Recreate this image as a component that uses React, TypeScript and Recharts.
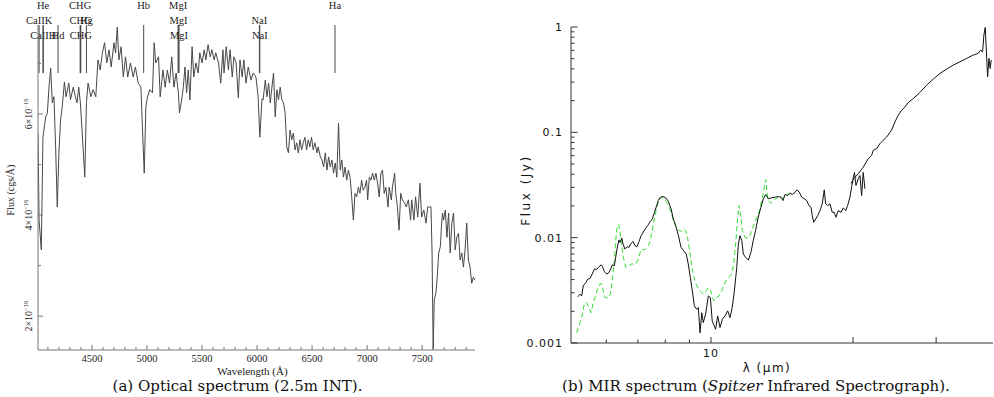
import React from "react";
import { LineChart, Line, XAxis, YAxis, ReferenceLine } from "recharts";

// (a) optical spectrum: wavelength (Å) and flux in units of 1e-16 cgs/Å
const opticalWave = [
  4010, 4020, 4040, 4055, 4080, 4095, 4110, 4125, 4140, 4155, 4170, 4185, 4200, 4215, 4230, 4250,
  4265, 4290, 4305, 4330, 4350, 4365, 4380, 4395, 4410, 4435, 4450, 4465, 4490, 4510, 4535, 4555,
  4575, 4595, 4615, 4635, 4655, 4675, 4700, 4715, 4730, 4745, 4765, 4785, 4805, 4825, 4850, 4875,
  4895, 4920, 4945, 4955, 4975, 4990, 5005, 5025, 5050, 5065, 5080, 5105, 5120, 5145, 5165, 5185,
  5205, 5225, 5245, 5265, 5285, 5295, 5315, 5330, 5345, 5360, 5375, 5390, 5410, 5425, 5445, 5465,
  5480, 5500, 5520, 5535, 5555, 5575, 5590, 5610, 5625, 5650, 5670, 5690, 5700, 5720, 5740, 5755,
  5775, 5790, 5810, 5830, 5845, 5865, 5880, 5900, 5920, 5945, 5965, 5990, 6010, 6025, 6045, 6055,
  6075, 6090, 6105, 6120, 6135, 6150, 6165, 6180, 6195, 6210, 6225, 6240, 6255, 6270, 6285, 6300,
  6315, 6330, 6345, 6360, 6375, 6390, 6405, 6420, 6435, 6450, 6465, 6480, 6495, 6510, 6525, 6545,
  6555, 6575, 6590, 6605, 6620, 6635, 6650, 6665, 6680, 6695, 6710, 6725, 6740, 6755, 6770, 6785,
  6800, 6815, 6830, 6845, 6860, 6875, 6890, 6905, 6920, 6935, 6950, 6965, 6980, 6995, 7005, 7020,
  7035, 7050, 7065, 7080, 7095, 7110, 7125, 7140, 7155, 7170, 7190, 7200, 7220, 7230, 7250, 7260,
  7275, 7290, 7305, 7320, 7340, 7355, 7375, 7395, 7405, 7425, 7440, 7460, 7480, 7495, 7515, 7535,
  7550, 7570, 7580, 7590, 7600, 7610, 7625, 7635, 7650, 7665, 7675, 7685, 7695, 7710, 7725, 7740,
  7755, 7770, 7785, 7800, 7815, 7830, 7845, 7860, 7875, 7890, 7905, 7920, 7935, 7950, 7965, 7980,
];
const opticalFlux = [
  5.62, 3.9, 3.31, 5.54, 5.94, 6.02, 6.53, 6.91, 6.22, 6.34, 5.35, 4.16, 5.23, 5.88, 6.14, 6.63,
  6.34, 6.61, 6.28, 6.53, 6.34, 6.22, 6.53, 6.22, 5.68, 4.75, 6.22, 6.61, 6.34, 6.48, 6.34, 7.07,
  6.87, 7.21, 7.41, 7.01, 7.27, 6.93, 7.41, 7.21, 7.72, 7.07, 7.33, 6.73, 7.13, 6.73, 7.01, 6.73,
  6.93, 6.61, 6.53, 5.94, 4.83, 6.14, 6.34, 6.48, 6.42, 7.41, 7.01, 7.13, 6.34, 6.87, 6.53, 6.87,
  6.61, 7.13, 6.53, 6.81, 6.42, 6.02, 6.28, 6.53, 6.93, 6.42, 6.87, 6.28, 7.33, 6.73, 7.01, 6.81,
  7.21, 7.01, 7.27, 7.07, 7.37, 7.13, 7.27, 7.07, 7.21, 7.01, 6.61, 7.27, 6.81, 7.33, 6.87, 7.27,
  6.73, 7.13, 7.01, 6.32, 7.07, 6.73, 7.07, 6.61, 6.93, 6.67, 6.81, 6.73, 6.34, 5.54, 6.3, 6.28,
  6.67, 6.34, 6.61, 6.22, 6.53, 6.81, 5.94, 6.48, 6.28, 6.53, 6.28, 6.22, 6.02, 5.35, 5.23, 5.68,
  5.49, 5.62, 5.29, 5.43, 5.23, 5.49, 5.29, 5.43, 5.54, 5.29, 5.49, 5.35, 5.54, 5.29, 5.43, 5.23,
  5.35, 5.15, 5.09, 4.95, 5.23, 4.89, 5.15, 4.95, 5.09, 4.83, 5.03, 4.75, 5.82, 4.89, 5.09, 4.75,
  4.95, 4.69, 4.89, 4.75, 4.36, 3.9, 4.43, 4.36, 4.55, 4.43, 4.69, 4.49, 4.55, 4.69, 4.3, 4.75,
  4.69, 4.83, 4.69, 4.83, 4.63, 4.36, 4.83, 4.89, 4.43, 4.55, 4.16, 4.55, 4.3, 4.55, 4.83, 4.43,
  4.16, 3.7, 4.43, 4.3, 4.24, 4.16, 4.3, 3.9, 4.3, 3.9, 4.36, 3.96, 4.63, 3.96, 4.1, 3.84,
  4.16, 4.16, 4.16, 3.25, 1.35, 2.32, 2.46, 2.71, 3.25, 3.37, 3.76, 4.04, 3.9, 4.1, 3.56, 4.04,
  3.25, 3.84, 4.04, 3.31, 3.56, 3.64, 3.11, 3.25, 2.97, 3.31, 3.84, 3.11, 2.97, 2.65, 2.77, 2.71,
];

// line identifications, observed wavelength (Å)
const lineName = ["CaIIK", "CaIIH", "He", "Hd", "CHG", "CHG", "Hg", "CHG", "Hb", "MgI", "MgI", "MgI", "NaI", "NaI", "Ha"];
const lineWave = [4020, 4058, 4056, 4192, 4393, 4396, 4450, 4399, 4970, 5283, 5287, 5291, 6021, 6025, 6708];
const lineRow = [1, 2, 0, 2, 0, 1, 1, 2, 0, 0, 1, 2, 1, 2, 0];
const markerFloor = 6.81;

const optXTicks = [
  4100, 4200, 4300, 4400, 4500, 4600, 4700, 4800, 4900, 5000, 5100, 5200, 5300, 5400, 5500, 5600,
  5700, 5800, 5900, 6000, 6100, 6200, 6300, 6400, 6500, 6600, 6700, 6800, 6900, 7000, 7100, 7200,
  7300, 7400, 7500, 7600, 7700, 7800, 7900,
];
const optYTicks = [2, 3, 4, 5, 6, 7];

// (b) MIR spectrum, wavelength (µm) and flux (Jy)
const slWave = [
  5.22, 5.28, 5.32, 5.36, 5.43, 5.48, 5.54, 5.6, 5.66, 5.73, 5.77, 5.85, 5.89, 5.94, 6.01, 6.08,
  6.14, 6.18, 6.24, 6.28, 6.34, 6.38, 6.42, 6.47, 6.51, 6.57, 6.64, 6.7, 6.77, 6.84, 6.9, 6.97,
  7.04, 7.11, 7.18, 7.25, 7.34, 7.44, 7.51, 7.59, 7.66, 7.73, 7.81, 7.91, 8.02, 8.12, 8.23, 8.32,
  8.42, 8.53, 8.64, 8.75, 8.86, 8.95, 9.04, 9.13, 9.22, 9.33, 9.4, 9.48, 9.56, 9.63, 9.74, 9.87,
  9.97, 10.06, 10.16, 10.23, 10.33, 10.45, 10.57, 10.71, 10.85, 10.97, 11.09, 11.21, 11.34, 11.43, 11.52, 11.62,
  11.71, 11.84, 12.0, 12.15, 12.29, 12.43, 12.59, 12.76, 12.91, 13.06, 13.23, 13.45, 13.66, 13.89, 14.07, 14.21,
  14.35, 14.54, 14.7, 14.87, 15.07, 15.23, 15.39, 15.57, 15.77, 15.95, 16.13, 16.29, 16.39, 16.51, 16.67, 16.83,
  17.02, 17.21, 17.38, 17.5, 17.67, 17.87, 18.07, 18.25, 18.4, 18.61, 18.86, 19.07, 19.3, 19.48, 19.7, 19.87,
  20.02, 20.14, 20.29, 20.51, 20.69, 20.86, 21.02, 21.2,
];
const slFlux = [
  0.00274, 0.00291, 0.0028, 0.00349, 0.00375, 0.00404, 0.0041, 0.00451, 0.00503, 0.005, 0.00521, 0.00553, 0.0053, 0.00478, 0.00451, 0.00467,
  0.00514, 0.00553, 0.00541, 0.00649, 0.00839, 0.00951, 0.00902, 0.00994, 0.00871, 0.0078, 0.00821, 0.00809, 0.00883, 0.00922, 0.00839, 0.00821,
  0.00922, 0.01045, 0.01123, 0.0121, 0.01301, 0.01429, 0.01507, 0.01741, 0.01972, 0.0225, 0.02421, 0.02457, 0.02388, 0.02218, 0.01876, 0.01507,
  0.01301, 0.01045, 0.00809, 0.00752, 0.007, 0.00562, 0.00419, 0.00313, 0.00225, 0.00209, 0.00217, 0.00125, 0.00194, 0.00156, 0.00188, 0.0028,
  0.0027, 0.00162, 0.00145, 0.00135, 0.00181, 0.0014, 0.00168, 0.00181, 0.00202, 0.00174, 0.00217, 0.00313, 0.00521, 0.00871, 0.01045, 0.00936,
  0.007, 0.00649, 0.00613, 0.00724, 0.00936, 0.01166, 0.01561, 0.01944, 0.02338, 0.0257, 0.02338, 0.02388, 0.02421, 0.02457, 0.02421, 0.0225,
  0.0257, 0.02512, 0.02642, 0.0257, 0.027, 0.02846, 0.027, 0.02421, 0.02338, 0.0225, 0.02018, 0.01944, 0.01621, 0.01399, 0.01507, 0.01621,
  0.01807, 0.02094, 0.02846, 0.02094, 0.02018, 0.02094, 0.01741, 0.01741, 0.01561, 0.01807, 0.01741, 0.01918, 0.01807, 0.02018, 0.02421, 0.0306,
  0.0365, 0.0416, 0.0313, 0.0362, 0.0389, 0.0251, 0.0416, 0.0291,
];
const llWave = [
  19.8, 20.09, 20.51, 21.02, 21.54, 21.9, 22.07, 22.44, 22.8, 23.17, 23.56, 24.14, 24.54, 24.94, 25.35, 25.76,
  26.18, 26.84, 27.72, 28.64, 29.58, 30.56, 31.58, 32.62, 33.7, 34.81, 35.95, 36.84, 37.28, 37.64, 37.88, 38.12,
  38.38, 38.57, 38.82, 39.06, 39.26,
];
const llFlux = [
  0.0327, 0.0365, 0.0404, 0.0467, 0.0562, 0.0604, 0.0674, 0.0699, 0.078, 0.0839, 0.0902, 0.1045, 0.1254, 0.1452, 0.1621, 0.1741,
  0.1918, 0.2094, 0.2388, 0.2805, 0.3197, 0.3623, 0.398, 0.4348, 0.4675, 0.5032, 0.5412, 0.5617, 0.6039, 0.5819, 0.8391, 0.99,
  0.5412, 0.3364, 0.5032, 0.4043, 0.485,
];
const modelWave = [
  5.19, 5.28, 5.34, 5.39, 5.45, 5.51, 5.57, 5.63, 5.7, 5.75, 5.82, 5.87, 5.91, 5.96, 6.06, 6.12,
  6.18, 6.24, 6.28, 6.33, 6.38, 6.45, 6.52, 6.6, 6.68, 6.77, 6.85, 6.93, 6.99, 7.06, 7.13, 7.22,
  7.31, 7.39, 7.46, 7.54, 7.61, 7.68, 7.76, 7.86, 7.96, 8.06, 8.15, 8.23, 8.32, 8.42, 8.53, 8.64,
  8.75, 8.84, 8.93, 9.01, 9.1, 9.22, 9.33, 9.48, 9.63, 9.79, 9.87, 9.97, 10.06, 10.16, 10.28, 10.4,
  10.54, 10.67, 10.8, 10.92, 11.06, 11.17, 11.28, 11.39, 11.46, 11.58, 11.65, 11.8, 11.96, 12.09, 12.23, 12.39,
  12.56, 12.72, 12.85, 12.97, 13.06, 13.14, 13.23, 13.4, 13.55, 13.71, 13.89, 14.07, 14.23, 14.4, 14.58, 14.77,
  14.94,
];
const modelFlux = [
  0.00125, 0.00156, 0.00188, 0.00237, 0.00242, 0.00217, 0.00194, 0.00242, 0.00287, 0.00325, 0.00367, 0.00362, 0.00313, 0.0027, 0.00267, 0.00291,
  0.00404, 0.00604, 0.00936, 0.01301, 0.0133, 0.00936, 0.00649, 0.00521, 0.0053, 0.00562, 0.00562, 0.00562, 0.00604, 0.007, 0.0078, 0.00764,
  0.00798, 0.00871, 0.01007, 0.01301, 0.01621, 0.01944, 0.02286, 0.02421, 0.02338, 0.02169, 0.01944, 0.01741, 0.01452, 0.01273, 0.01184, 0.01148,
  0.0121, 0.01166, 0.00972, 0.00752, 0.00541, 0.00404, 0.00349, 0.00313, 0.00291, 0.00318, 0.00336, 0.00318, 0.0027, 0.00251, 0.0027, 0.0028,
  0.00313, 0.00362, 0.00404, 0.00419, 0.00451, 0.00562, 0.00871, 0.01561, 0.02018, 0.01561, 0.01166, 0.01007, 0.0099, 0.01045, 0.0121, 0.01399,
  0.01621, 0.01944, 0.02421, 0.03014, 0.03546, 0.027, 0.0225, 0.02122, 0.0225, 0.02338, 0.02421, 0.02457, 0.02338, 0.02512, 0.02606, 0.02642,
  0.027,
];

const mirXTicks = [6, 7, 8, 9, 10, 20, 30];
const mirYTicks = [
  0.001, 0.002, 0.003, 0.004, 0.005, 0.006, 0.007, 0.008, 0.009,
  0.01, 0.02, 0.03, 0.04, 0.05, 0.06, 0.07, 0.08, 0.09,
  0.1, 0.2, 0.3, 0.4, 0.5, 0.6, 0.7, 0.8, 0.9, 1,
];

const OPT_X: [number, number] = [4010, 7980];
const OPT_Y: [number, number] = [1.33, 7.76];
const MIR_X: [number, number] = [5.05, 39.6];
const MIR_Y: [number, number] = [0.001, 1];

const SERIF = "'Liberation Serif', 'Times New Roman', serif";
const CAPTION = "'DejaVu Serif', serif";
const PG = "'DejaVu Sans', sans-serif";
const INK = "#222";
const SPEC = "#484848";
const FRAME_A = "#777";
const FRAME_B = "#333";
const ROW_DY = [-16.5, -1.5, 13.5];

const optical = opticalWave.map((w, i) => ({ w, f: opticalFlux[i] }));
const sl = slWave.map((w, i) => ({ w, f: slFlux[i] }));
const ll = llWave.map((w, i) => ({ w, f: llFlux[i] }));
const model = modelWave.map((w, i) => ({ w, f: modelFlux[i] }));

const isDecade = (v: number) => Math.abs(Math.log10(v) - Math.round(Math.log10(v))) < 1e-6;

// ---- ticks for panel (a) ----
const OptBottomTick = ({ x, y, payload }: any) => {
  const major = payload.value % 500 === 0;
  return (
    <g>
      <line x1={x} x2={x} y1={y} y2={y - (major ? 5 : 3)} stroke={FRAME_A} />
      {major && (
        <text x={x} y={y + 12} textAnchor="middle" fontSize={10.5} fontFamily={SERIF} fill={INK}>
          {payload.value}
        </text>
      )}
    </g>
  );
};
const OptTopTick = ({ x, y, payload }: any) => (
  <line x1={x} x2={x} y1={y} y2={y + (payload.value % 500 === 0 ? 5 : 3)} stroke={FRAME_A} />
);
const OptLeftTick = ({ x, y, payload }: any) => {
  const major = payload.value % 2 === 0;
  const bx = x - 6;
  return (
    <g>
      <line x1={x} x2={x + (major ? 5 : 3)} y1={y} y2={y} stroke={FRAME_A} />
      {major && (
        <text transform={`rotate(-90 ${bx} ${y})`} x={bx} y={y} textAnchor="middle" fontSize={10} fontFamily={SERIF} fill={INK}>
          {payload.value}×10<tspan fontSize={6.5} dy={-4}>−16</tspan>
        </text>
      )}
    </g>
  );
};
const OptRightTick = ({ x, y, payload }: any) => (
  <line x1={x} x2={x - (payload.value % 2 === 0 ? 5 : 3)} y1={y} y2={y} stroke={FRAME_A} />
);

// ---- ticks for panel (b) ----
const MirBottomTick = ({ x, y, payload }: any) => {
  const v = payload.value;
  const len = v >= 10 ? 6 : 3.5;
  return (
    <g>
      <line x1={x} x2={x} y1={y} y2={y - len} stroke={FRAME_B} />
      {v === 10 && (
        <text x={x} y={y + 14} textAnchor="middle" fontSize={11} letterSpacing={1} fontFamily={PG} fill="#111">
          10
        </text>
      )}
    </g>
  );
};
const MirTopTick = ({ x, y, payload }: any) => (
  <line x1={x} x2={x} y1={y} y2={y + (payload.value >= 10 ? 6 : 3.5)} stroke={FRAME_B} />
);
const MirLeftTick = ({ x, y, payload }: any) => {
  const major = isDecade(payload.value);
  return (
    <g>
      <line x1={x} x2={x + (major ? 6.5 : 3.5)} y1={y} y2={y} stroke={FRAME_B} />
      {major && (
        <text x={x - 8} y={y + 4} textAnchor="end" fontSize={11} letterSpacing={1} fontFamily={PG} fill="#111">
          {String(payload.value)}
        </text>
      )}
    </g>
  );
};
const MirRightTick = ({ x, y, payload }: any) => (
  <line x1={x} x2={x - (isDecade(payload.value) ? 6.5 : 3.5)} y1={y} y2={y} stroke={FRAME_B} />
);

const markerLabel = (name: string, row: number) => (p: any) => {
  const vb = p.viewBox || {};
  return (
    <text x={vb.x} y={vb.y + ROW_DY[row]} textAnchor="middle" fontSize={10.5} fontFamily={SERIF} fill={INK}>
      {name}
    </text>
  );
};

function OpticalPanel() {
  return (
    <LineChart width={480} height={397} margin={{ top: 25, right: 5, bottom: 0, left: 8 }}>
      <XAxis xAxisId="b" dataKey="w" type="number" domain={OPT_X} allowDataOverflow ticks={optXTicks}
        interval={0} tickSize={0} tickMargin={0} tickLine={false} tick={<OptBottomTick />} height={47}
        axisLine={{ stroke: FRAME_A }}
        label={(p: any) => {
          const vb = p.viewBox;
          return (
            <text x={vb.x + vb.width / 2 - 4} y={vb.y + 25} textAnchor="middle" fontSize={11} fontFamily={SERIF} fill={INK}>
              Wavelength (Å)
            </text>
          );
        }}
      />
      <XAxis xAxisId="t" orientation="top" dataKey="w" type="number" domain={OPT_X} allowDataOverflow ticks={optXTicks}
        interval={0} tickSize={0} tickMargin={0} tickLine={false} tick={<OptTopTick />} height={0}
        axisLine={{ stroke: FRAME_A }} />
      <YAxis yAxisId="l" type="number" domain={OPT_Y} allowDataOverflow ticks={optYTicks} interval={0}
        tickSize={0} tickMargin={0} tickLine={false} tick={<OptLeftTick />} width={30}
        axisLine={{ stroke: FRAME_A }}
        label={(p: any) => {
          const vb = p.viewBox;
          const cx = vb.x + 6;
          const cy = vb.y + vb.height / 2 + 2.5;
          return (
            <text transform={`rotate(-90 ${cx} ${cy})`} x={cx} y={cy} textAnchor="middle" fontSize={10} fontFamily={SERIF} fill={INK}>
              Flux (cgs/Å)
            </text>
          );
        }}
      />
      <YAxis yAxisId="r" orientation="right" type="number" domain={OPT_Y} allowDataOverflow ticks={optYTicks}
        interval={0} tickSize={0} tickMargin={0} tickLine={false} tick={<OptRightTick />} width={0}
        axisLine={{ stroke: FRAME_A }} />
      {lineWave.map((w, i) => (
        <ReferenceLine key={`m${i}`} xAxisId="b" yAxisId="l" ifOverflow="visible"
          segment={[{ x: w, y: OPT_Y[1] }, { x: w, y: markerFloor }]}
          stroke={SPEC} strokeWidth={1}
          label={markerLabel(lineName[i], lineRow[i])} />
      ))}
      <Line xAxisId="b" yAxisId="l" data={optical} dataKey="f" type="linear" dot={false}
        stroke={SPEC} strokeWidth={1} isAnimationActive={false} />
    </LineChart>
  );
}

function MirPanel() {
  return (
    <LineChart width={494} height={397} margin={{ top: 27, right: 1, bottom: 0, left: 16 }}>
      <XAxis xAxisId="b" dataKey="w" type="number" scale="log" domain={MIR_X} allowDataOverflow ticks={mirXTicks}
        interval={0} tickSize={0} tickMargin={0} tickLine={false} tick={<MirBottomTick />} height={54}
        axisLine={{ stroke: FRAME_B }}
        label={(p: any) => {
          const vb = p.viewBox;
          return (
            <text x={vb.x + vb.width / 2 - 15} y={vb.y + 29} textAnchor="middle" fontSize={12} letterSpacing={1.5} fontFamily={PG} fill="#111">
              λ  (μm)
            </text>
          );
        }}
      />
      <XAxis xAxisId="t" orientation="top" dataKey="w" type="number" scale="log" domain={MIR_X} allowDataOverflow
        ticks={mirXTicks} interval={0} tickSize={0} tickMargin={0} tickLine={false} tick={<MirTopTick />} height={0}
        axisLine={{ stroke: FRAME_B }} />
      <YAxis yAxisId="l" type="number" scale="log" domain={MIR_Y} allowDataOverflow ticks={mirYTicks} interval={0}
        tickSize={0} tickMargin={0} tickLine={false} tick={<MirLeftTick />} width={55}
        axisLine={{ stroke: FRAME_B }}
        label={(p: any) => {
          const vb = p.viewBox;
          const cx = vb.x + 14;
          const cy = vb.y + vb.height / 2 + 5;
          return (
            <text transform={`rotate(-90 ${cx} ${cy})`} x={cx} y={cy} textAnchor="middle" fontSize={12} letterSpacing={2.5} fontFamily={PG} fill="#111">
              Flux  (Jy)
            </text>
          );
        }}
      />
      <YAxis yAxisId="r" orientation="right" type="number" scale="log" domain={MIR_Y} allowDataOverflow
        ticks={mirYTicks} interval={0} tickSize={0} tickMargin={0} tickLine={false} tick={<MirRightTick />} width={0}
        axisLine={{ stroke: FRAME_B }} />
      <Line xAxisId="b" yAxisId="l" data={model} dataKey="f" type="linear" dot={false}
        stroke="#33dd33" strokeWidth={1} strokeDasharray="5 3" isAnimationActive={false} />
      <Line xAxisId="b" yAxisId="l" data={sl} dataKey="f" type="linear" dot={false}
        stroke="#111" strokeWidth={1} isAnimationActive={false} />
      <Line xAxisId="b" yAxisId="l" data={ll} dataKey="f" type="linear" dot={false}
        stroke="#111" strokeWidth={1} isAnimationActive={false} />
    </LineChart>
  );
}

export default function App() {
  return (
    <div style={{ position: "absolute", left: 0, top: 0, width: 994, height: 397, background: "#fff", overflow: "hidden" }}>
      <div style={{ position: "absolute", left: 0, top: 0 }}>
        <OpticalPanel />
      </div>
      <div style={{ position: "absolute", left: 500, top: 0 }}>
        <MirPanel />
      </div>
      <svg width={994} height={397} style={{ position: "absolute", left: 0, top: 0, pointerEvents: "none" }}>
        <text x={237.5} y={391} textAnchor="middle" fontSize={15} fontFamily={CAPTION} fill="#111">
          (a)  Optical spectrum (2.5m INT).
        </text>
        <text x={756} y={391} textAnchor="middle" fontSize={15} fontFamily={CAPTION} fill="#111">
          (b)  MIR spectrum (<tspan fontStyle="italic">Spitzer</tspan> Infrared Spectrograph).
        </text>
      </svg>
    </div>
  );
}
